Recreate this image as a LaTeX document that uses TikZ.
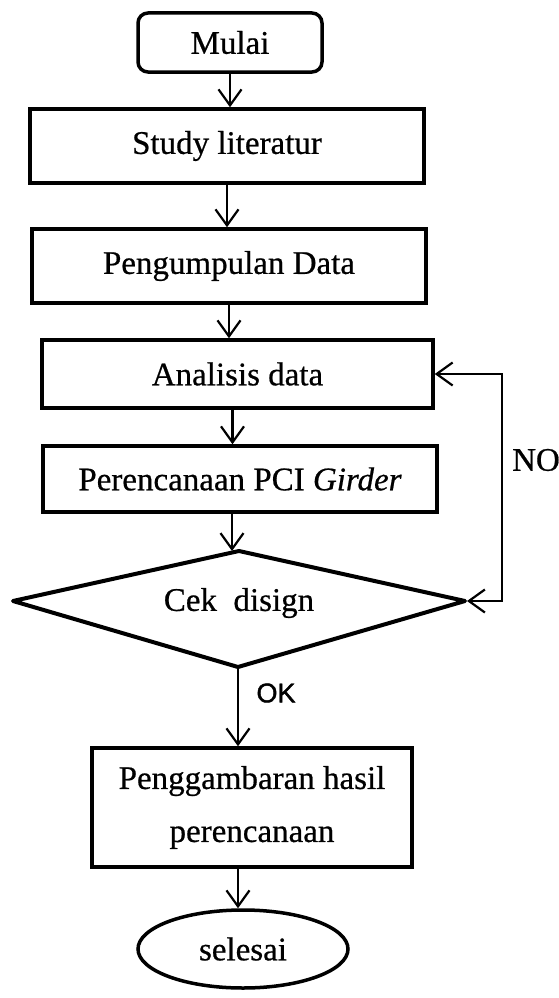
\documentclass[tikz,border=0pt]{standalone}
\usepackage{fontspec}
\setmainfont{Liberation Serif}[FakeBold=0.6]
\newfontfamily\oksans{Liberation Sans}[FakeBold=1.5]
\usetikzlibrary{shapes.geometric,arrows.meta}
\begin{document}
\begin{tikzpicture}[x=1pt,y=-1pt,
  font=\fontsize{33}{53}\selectfont,
  box/.style={draw, line width=3.5pt, rectangle, inner sep=0pt, align=center},
  startbox/.style={box, rounded corners=10pt},
  decisionline/.style={draw, line width=4pt, line join=round},
  endbox/.style={draw, line width=3.5pt, ellipse, inner sep=0pt},
  arr/.style={line width=2.2pt, -{Straight Barb[length=16pt,width=23pt,line width=2.2pt]}},
  loopline/.style={line width=2.2pt, {Straight Barb[length=16pt,width=23pt,line width=2.2pt]}-{Straight Barb[length=16pt,width=23pt,line width=2.2pt]}},
  lbl/.style={inner sep=0pt}
]
\fill[white] (0,0) rectangle (559,998);
\useasboundingbox (0,0) rectangle (559,998);

\node[startbox, minimum width=184pt, minimum height=59pt] (mulai) at (230,42.5) {Mulai};
\node[box, minimum width=394pt, minimum height=74pt] (study) at (227,146) {Study literatur};
\node[box, minimum width=394pt, minimum height=74pt] (data) at (229,266) {Pengumpulan Data};
\node[box, minimum width=391pt, minimum height=68pt] (analisis) at (237.5,374) {Analisis data};
\node[box, minimum width=394pt, minimum height=66pt] (pci) at (240,479) {Perencanaan PCI \textit{Girder}};

% decision diamond
\coordinate (cekN) at (239,551);
\coordinate (cekS) at (238,667);
\coordinate (cekW) at (13,601);
\coordinate (cekE) at (465,601);
\draw[decisionline] (cekW) -- (cekN) -- (cekE) -- (cekS) -- cycle;
\node[lbl] (cek) at (239,603) {Cek\ \ disign};

\node[box, minimum width=320pt, minimum height=119pt] (gambar) at (252,807.5) {Penggambaran hasil\\perencanaan};
\node[endbox, minimum width=210pt, minimum height=78pt] (selesai) at (243,949) {selesai};

\node[lbl, font=\oksans\fontsize{27}{30}\selectfont] (ok) at (276,693) {OK};
\node[lbl] (no) at (536,460) {NO};

\coordinate (loop) at (502,0);

\draw[arr] (mulai.south) -- (mulai.south |- study.north);
\draw[arr] (study.south) -- (study.south |- data.north);
\draw[arr] (data.south) -- (data.south |- analisis.north);
\draw[arr] ([xshift=-5pt]analisis.south) -- ([xshift=-5pt]analisis.south |- pci.north);
\draw[arr] ([xshift=-8pt]pci.south) -- ([xshift=-8pt]pci.south |- cekN);
\draw[arr] (cekS) -- (cekS |- gambar.north);
\draw[arr] (cekS |- gambar.south) -- (cekS |- selesai.north);
\draw[loopline] ([xshift=2pt]cekE) -- (cekE -| loop) |- (analisis.east);
\end{tikzpicture}
\end{document}
